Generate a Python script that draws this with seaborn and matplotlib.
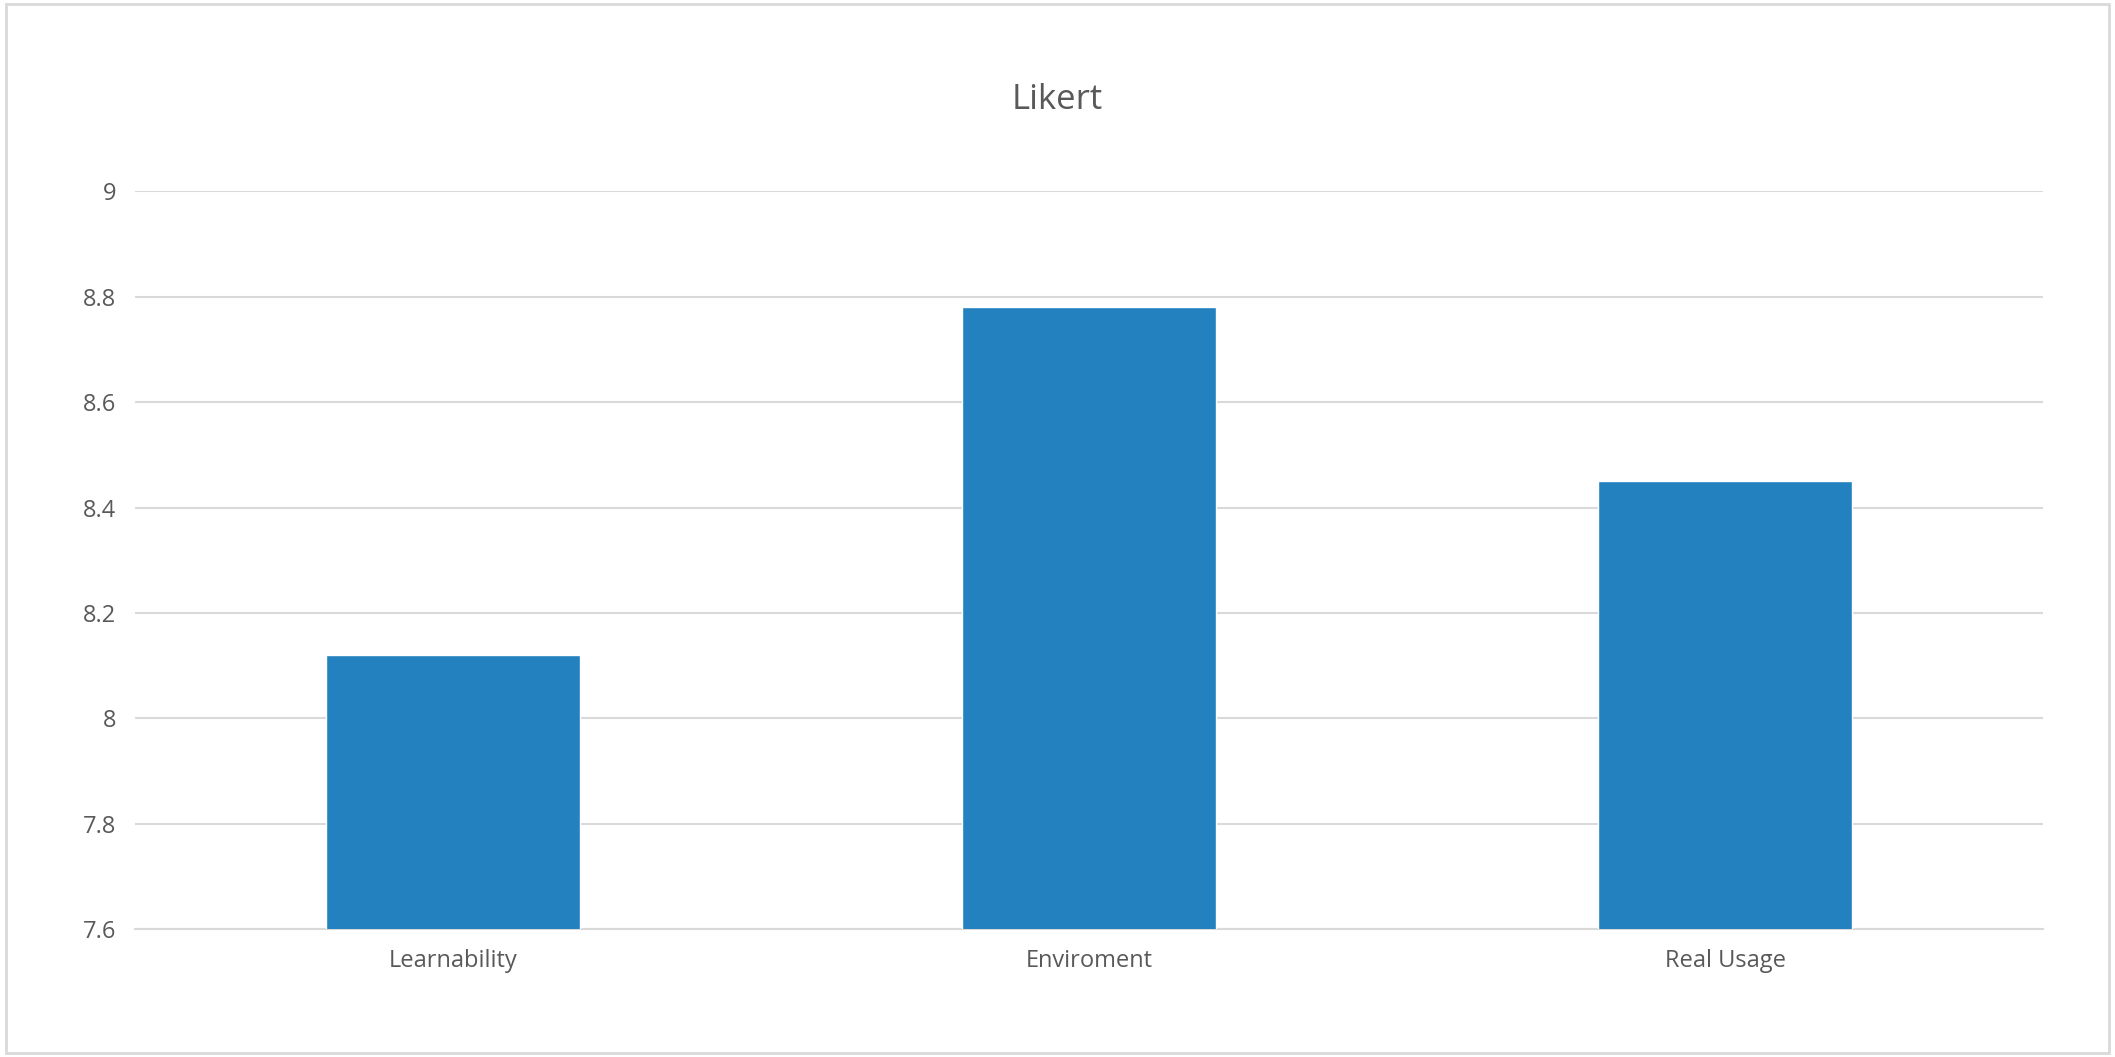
import matplotlib
matplotlib.use("Agg")
import matplotlib.pyplot as plt
import pandas as pd
import seaborn as sns

categories = ["Learnability", "Enviroment", "Real Usage"]
scores = [8.12, 8.78, 8.45]
yticks = [7.6, 7.8, 8, 8.2, 8.4, 8.6, 8.8, 9]
ytick_labels = ["7.6", "7.8", "8", "8.2", "8.4", "8.6", "8.8", "9"]

sns.set_theme(style="white")
plt.rcParams['font.family'] = ['Open Sans', 'DejaVu Sans']

df = pd.DataFrame({"category": categories, "score": scores})

fig = plt.figure(figsize=(21.15, 10.57), dpi=100)
ax = fig.add_axes([0.064, 0.121, 0.902, 0.698])
sns.barplot(data=df, x="category", y="score", color="#2481c0", width=0.4,
            saturation=1, ax=ax, zorder=3)
ax.set_ylim(7.6, 9)
ax.set_yticks(yticks)
ax.set_yticklabels(ytick_labels)
ax.yaxis.grid(True, color="#d9d9d9", linewidth=1.5, zorder=0)
ax.set_axisbelow(True)
for s in ["top", "right", "left"]:
    ax.spines[s].set_visible(False)
ax.spines["bottom"].set_color("#d9d9d9")
ax.spines["bottom"].set_linewidth(1.5)
ax.tick_params(axis="both", length=0, labelsize=17, labelcolor="#595959", pad=14)
ax.set_xlabel("")
ax.set_ylabel("")
fig.text(0.5, 0.905, "Likert", ha="center", va="center", fontsize=25, color="#595959")

# light frame around the whole chart
fig.patches.append(plt.Rectangle((0.003, 0.004), 0.994, 0.992, transform=fig.transFigure,
                                 fill=False, edgecolor="#d9d9d9", linewidth=2))
fig.savefig("out.png", dpi=100)
